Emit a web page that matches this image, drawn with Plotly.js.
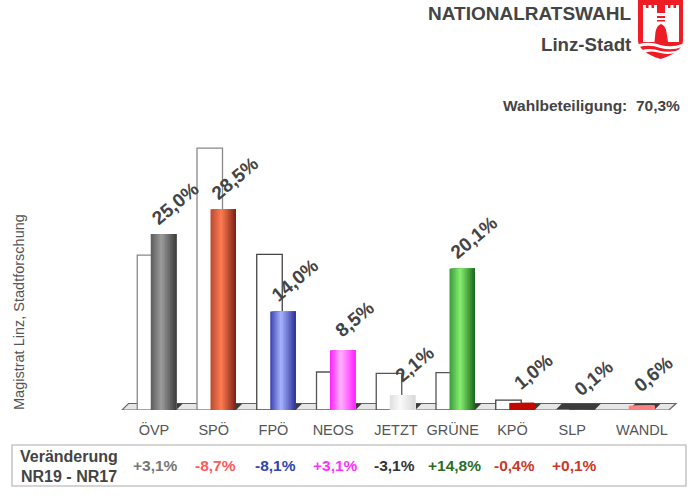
<!DOCTYPE html>
<html><head><meta charset="utf-8">
<script src="https://cdn.plot.ly/plotly-3.0.1.min.js"></script>
<style>html,body{margin:0;padding:0;background:#fff}#c{width:700px;height:498px}</style>
</head><body><div id="c"></div>
<script>
const parties = ["ÖVP","SPÖ","FPÖ","NEOS","JETZT","GRÜNE","KPÖ","SLP","WANDL"];
const nr19 = [25.0,28.5,14.0,8.5,2.1,20.1,1.0,0.1,0.6];
const nr17 = [22.0,37.2,22.1,5.4,5.2,5.3,1.4,0,null];
const nr19Labels = ["25,0%","28,5%","14,0%","8,5%","2,1%","20,1%","1,0%","0,1%","0,6%"];
const changeLabels = ["+3,1%","-8,7%","-8,1%","+3,1%","-3,1%","+14,8%","-0,4%","+0,1%",""];
const changeColors = ["#777777","#ff5a5a","#3344aa","#ff33ff","#333333","#2a6e2a","#c83a28","#c83a28","#ffffff"];
const prevLine = ["#888888","#888888","#444444","#555555","#555555","#555555","#444444","#888888","#888888"];
const edgeLeft = ["#5c5c5c","#b84a30","#3a40b0","#ff1eff","#dedede","#3a9a3a","#c00a00","#444444","#ff8080"];
const edgeMid  = ["#9c9c9c","#ff7c52","#a8b4ff","#ffb4ff","#fafafa","#86f070","#c00a00","#6a4a44","#ff8080"];
const edgeRight= ["#3c3c3c","#7a1f15","#2a2f98","#ff1eff","#d8d8d8","#1a641a","#c00a00","#444444","#ff8080"];

const W=700,H=498,BASE=410,PX_PER_PCT=7.04,STEP=59.75,X0=163.5,BAR=25.5/59.75,PREV=-13.5/59.75;
const FLOOR=6.5,SHEAR=6.5;
const yOf=px=>(BASE-px)/PX_PER_PCT;
const xOf=px=>(px-X0)/STEP;
const dx=SHEAR/STEP, dy=FLOOR/PX_PER_PCT;
const idx=parties.map((_,i)=>i);
const hex=c=>[1,3,5].map(k=>parseInt(c.substr(k,2),16));
const mix=(a,b,t)=>{const A=hex(a),B=hex(b);return `rgb(${A.map((v,i)=>Math.round(v+(B[i]-v)*t)).join(",")})`};
const shade=(i,t)=>t<0.42?mix(edgeLeft[i],edgeMid[i],t/0.42):mix(edgeMid[i],edgeRight[i],(t-0.42)/0.58);

const traces=[{type:"bar",x:idx,y:nr17,width:BAR,offset:PREV-BAR/2+0.0,
  marker:{color:"#ffffff",line:{color:prevLine,width:1.3}},hoverinfo:"skip",showlegend:false}];
const N=16;
for(let k=0;k<N;k++){
  traces.push({type:"bar",x:idx,y:nr19,width:BAR*(1-k/N),offset:-BAR/2+BAR*k/N,
    marker:{color:idx.map(i=>shade(i,(k+0.5)/N)),line:{width:0}},hoverinfo:"skip",showlegend:false});
}

const xLeft=xOf(122),xRight=xOf(669);
const shapes=[{type:"path",xref:"x",yref:"y",layer:"below",
  path:`M${xLeft},0 L${xRight},0 L${xRight+dx*1.08},${dy} L${xLeft+dx},${dy} Z`,
  fillcolor:"#e6e6e6",line:{color:"#666666",width:1.2}}];
idx.forEach(i=>{
  const l=(nr17[i]===null?i-BAR/2:i+PREV-BAR/2), r=i+BAR/2;
  shapes.push({type:"path",xref:"x",yref:"y",layer:"below",
    path:`M${l},0 L${r},0 L${r+dx},${dy} L${l+dx},${dy} Z`,fillcolor:"#3c3c3c",line:{width:0}});
});
const py=p=>(BASE-p)/BASE, px=p=>p/W;
const P=(x,y)=>`${px(x)},${py(y)}`;
const paperPath=(d,fill)=>({type:"path",xref:"paper",yref:"paper",path:d,fillcolor:fill,line:{width:0}});
// result box
shapes.push({type:"rect",xref:"paper",yref:"paper",x0:px(12),x1:px(686),y0:py(486),y1:py(445),
  fillcolor:"#ffffff",line:{color:"#c8c8c8",width:1.6}});
// coat of arms
const RED="#ee1c25";
shapes.push(paperPath(`M${P(638,0)} L${P(683,0)} L${P(683,40)} Q${P(683,52)} ${P(660.5,59)} Q${P(638,52)} ${P(638,40)} Z`,RED));
shapes.push(paperPath(`M${P(643,5)} L${P(646,5)} L${P(646,8)} L${P(648.5,8)} L${P(648.5,5)} L${P(651.5,5)} L${P(651.5,8)} L${P(654,8)} L${P(654,5)} L${P(657,5)} L${P(657,13)} L${P(665,13)} L${P(665,5)} L${P(668,5)} L${P(668,8)} L${P(670.5,8)} L${P(670.5,5)} L${P(673.5,5)} L${P(673.5,8)} L${P(676,8)} L${P(676,5)} L${P(679,5)} L${P(679,42)} L${P(643,42)} Z`,"#ffffff"));
shapes.push(paperPath(`M${P(657,16)} L${P(665,16)} L${P(665,18)} L${P(657,18)} Z`,RED));
shapes.push(paperPath(`M${P(657,20)} L${P(665,20)} L${P(665,21.5)} L${P(657,21.5)} Z`,RED));
shapes.push(paperPath(`M${P(654.5,42)} L${P(655.5,32)} Q${P(657,25)} ${P(661,24)} Q${P(665,25)} ${P(666.5,32)} L${P(668,42)} Z`,RED));
shapes.push(paperPath(`M${P(639,44)} Q${P(650,41)} ${P(660.5,45)} Q${P(672,48)} ${P(682,44)} L${P(682,47)} Q${P(672,51)} ${P(660.5,48)} Q${P(650,44)} ${P(639,47)} Z`,"#ffffff"));
shapes.push(paperPath(`M${P(642,50)} Q${P(651,47.5)} ${P(660.5,51)} Q${P(671,53)} ${P(679,50)} L${P(677,52.5)} Q${P(669,55)} ${P(660.5,53)} Q${P(651,50)} ${P(644,53)} Z`,"#ffffff"));

const TXT="Liberation Sans, Arial, sans-serif";
const annotations=[];
idx.forEach(i=>annotations.push({xref:"x",yref:"y",x:i,y:nr19[i],xshift:11.5,yshift:31,
  text:`<b>${nr19Labels[i]}</b>`,textangle:-40,showarrow:false,font:{family:TXT,size:19,color:"#444444"}}));
idx.forEach(i=>annotations.push({xref:"x",yref:"paper",x:i-0.126,y:py(465.5),yanchor:"middle",text:`<b>${changeLabels[i]}</b>`,
  showarrow:false,font:{family:TXT,size:15.5,color:changeColors[i]}}));
const label=(text,x,y,size,anchor,extra)=>annotations.push(Object.assign({xref:"paper",yref:"paper",x:px(x),y:py(y),text,
  showarrow:false,xanchor:anchor,yanchor:"middle",font:{family:TXT,size,color:"#444444"}},extra||{}));
label("<b>Veränderung</b>",69,456,16,"center");
label("<b>NR19 - NR17</b>",69,477,16,"center");
label("<b>NATIONALRATSWAHL</b>",633,13,19,"right");
label("<b>Linz-Stadt</b>",633,45,18.7,"right");
label("<b>Wahlbeteiligung:&nbsp; 70,3%</b>",682,105,15.5,"right");
label("Magistrat Linz, Stadtforschung",19,312,14.5,"center",{textangle:-90,font:{family:TXT,size:14.5,color:"#555555"}});

const tickPos=idx.map(i=>i-0.16+(i===8?10/STEP:0)+(i===4?3/STEP:0));
const layout={width:W,height:H,margin:{l:0,r:0,t:0,b:H-BASE,pad:0},paper_bgcolor:"#ffffff",plot_bgcolor:"rgba(0,0,0,0)",
  barmode:"overlay",showlegend:false,
  xaxis:{range:[xOf(0),xOf(W)],tickmode:"array",tickvals:tickPos,ticktext:parties,ticks:"",showgrid:false,zeroline:false,showline:false,
    ticklabelstandoff:9,tickfont:{family:TXT,size:14.5,color:"#555555"},fixedrange:true},
  yaxis:{range:[0,yOf(0)],showticklabels:false,ticks:"",showgrid:false,zeroline:false,showline:false,fixedrange:true},
  shapes,annotations};
Plotly.newPlot("c",traces,layout,{displayModeBar:false,staticPlot:true});
</script></body></html>
